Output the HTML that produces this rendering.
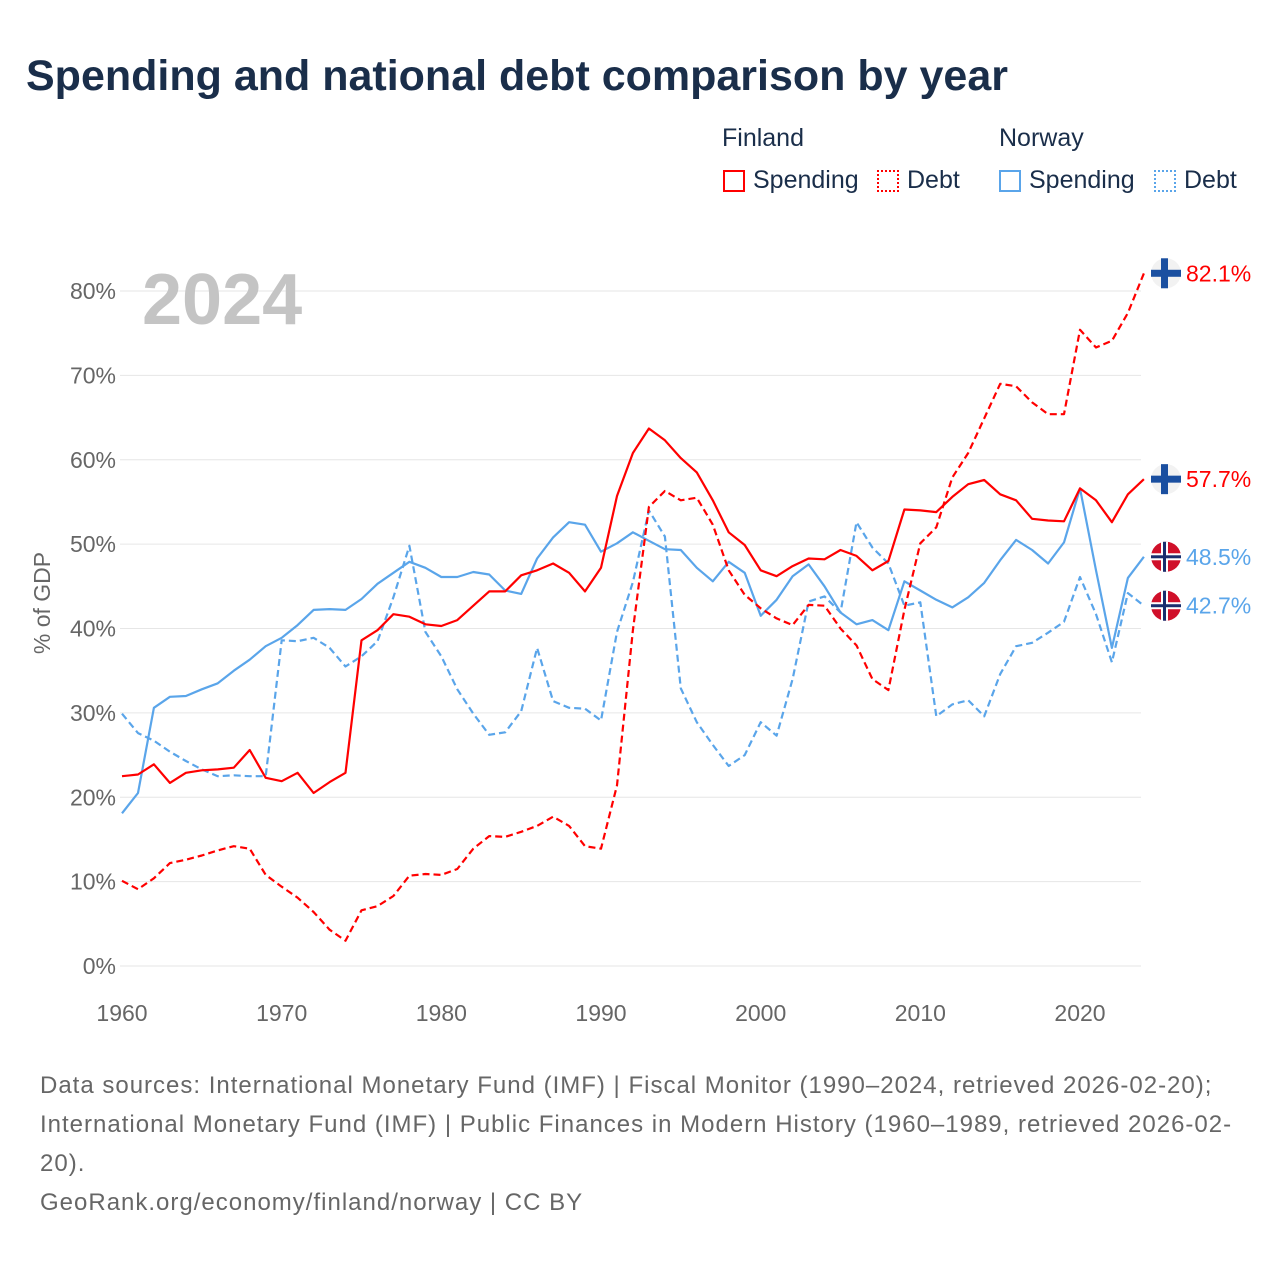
<!DOCTYPE html>
<html><head><meta charset="utf-8"><style>
body{margin:0;background:#fff;font-family:"Liberation Sans",sans-serif;}
#wrap{position:relative;width:1280px;height:1280px;overflow:hidden;}
h1{position:absolute;left:26px;top:52px;margin:0;font-size:43px;color:#1a2e4a;font-weight:bold;letter-spacing:0px;}
.lg{position:absolute;font-size:25px;color:#1a2e4a;}
.sw{position:absolute;width:22px;height:22px;box-sizing:border-box;}
#foot{position:absolute;left:40px;top:1066px;font-size:24px;line-height:39px;color:#666;white-space:nowrap;letter-spacing:1px;}
</style></head><body><div id="wrap">
<h1>Spending and national debt comparison by year</h1>
<div class="lg" style="left:722px;top:124px">Finland</div>
<div class="lg" style="left:999px;top:124px">Norway</div>
<div class="sw" style="left:723px;top:170px;border:2px solid #f00"></div>
<div class="lg" style="left:753px;top:166px">Spending</div>
<div class="sw" style="left:877px;top:170px;border:2px dotted #f00"></div>
<div class="lg" style="left:907px;top:166px">Debt</div>
<div class="sw" style="left:999px;top:170px;border:2px solid #5aa5ea"></div>
<div class="lg" style="left:1029px;top:166px">Spending</div>
<div class="sw" style="left:1154px;top:170px;border:2px dotted #5aa5ea"></div>
<div class="lg" style="left:1184px;top:166px">Debt</div>
<svg id="chart" width="1280" height="1280" style="position:absolute;left:0;top:0"></svg>
<div id="foot">Data sources: International Monetary Fund (IMF) | Fiscal Monitor (1990–2024, retrieved 2026-02-20);<br>International Monetary Fund (IMF) | Public Finances in Modern History (1960–1989, retrieved 2026-02-<br>20).<br>GeoRank.org/economy/finland/norway | CC BY</div>
</div>
<script>
const years=[];for(let y=1960;y<=2024;y++)years.push(y);
const yTicks=[0,10,20,30,40,50,60,70,80];
const xTicks=[1960,1970,1980,1990,2000,2010,2020];
const fiSpending=[22.5,22.7,23.9,21.7,22.9,23.2,23.3,23.5,25.6,22.3,21.9,22.9,20.5,21.8,22.9,38.6,39.8,41.7,41.4,40.5,40.3,41.0,42.7,44.4,44.4,46.3,46.9,47.7,46.6,44.4,47.2,55.7,60.8,63.7,62.3,60.2,58.5,55.2,51.4,49.9,46.9,46.2,47.4,48.3,48.2,49.3,48.6,46.9,48.0,54.1,54.0,53.8,55.6,57.1,57.6,55.9,55.2,53.0,52.8,52.7,56.6,55.2,52.6,55.9,57.7];
const fiDebt=[10.1,9.1,10.4,12.2,12.6,13.1,13.7,14.2,13.9,10.8,9.4,8.1,6.4,4.3,3.0,6.6,7.1,8.3,10.7,10.9,10.8,11.5,13.9,15.4,15.3,15.9,16.6,17.7,16.6,14.2,13.9,21.4,39.8,54.4,56.3,55.2,55.5,52.3,46.9,44.0,42.4,41.2,40.4,42.8,42.7,40.0,38.0,34.0,32.7,42.2,50.1,52.0,57.9,60.8,64.9,69.0,68.7,66.8,65.4,65.4,75.4,73.3,74.1,77.4,82.1];
const noSpending=[18.1,20.5,30.6,31.9,32.0,32.8,33.5,35.0,36.3,37.9,38.9,40.4,42.2,42.3,42.2,43.5,45.3,46.6,47.9,47.2,46.1,46.1,46.7,46.4,44.5,44.1,48.3,50.8,52.6,52.3,49.1,50.1,51.4,50.4,49.4,49.3,47.2,45.6,47.9,46.6,41.5,43.4,46.2,47.6,45.0,41.9,40.5,41.0,39.8,45.6,44.5,43.4,42.5,43.7,45.4,48.1,50.5,49.3,47.7,50.2,56.6,46.9,37.7,46.0,48.5];
const noDebt=[29.9,27.6,26.7,25.4,24.3,23.3,22.5,22.6,22.5,22.5,38.6,38.5,38.9,37.7,35.5,36.7,38.5,43.7,49.8,39.6,36.7,32.8,29.9,27.4,27.7,30.2,37.7,31.4,30.6,30.5,29.1,39.6,45.5,54.0,50.9,32.9,28.9,26.2,23.7,25.0,28.9,27.3,34.0,43.2,43.8,41.9,52.6,49.6,47.7,42.7,43.1,29.6,31.0,31.5,29.6,34.6,37.9,38.3,39.5,40.8,46.1,41.7,36.0,44.2,42.7];
const NS="http://www.w3.org/2000/svg";
const svg=document.getElementById('chart');
const X=y=>122+(y-1960)*(958/60);
const Y=v=>966-v*8.4375;
function el(t,a,p){const e=document.createElementNS(NS,t);for(const k in a)e.setAttribute(k,a[k]);(p||svg).appendChild(e);return e;}
yTicks.forEach(t=>{
 const g=el('line',{x1:120,x2:1141,y1:Y(t),y2:Y(t),stroke:'#e6e6e6','stroke-width':1});
 
 
 const l=el('text',{x:116,y:Y(t)+8,'text-anchor':'end','font-size':23,fill:'#666'});l.textContent=t+'%';
 
 
});
xTicks.forEach(t=>{
 const l=el('text',{x:X(t),y:1021,'text-anchor':'middle','font-size':23,fill:'#666'});l.textContent=t;
 
 
});
const yt=el('text',{x:50,y:603,'text-anchor':'middle','font-size':23,fill:'#666',transform:'rotate(-90 50 603)'});yt.textContent='% of GDP';


const yr=el('text',{x:142,y:324,'font-size':72,'font-weight':'bold',fill:'#c4c4c4'});yr.textContent='2024';


function line(data,color,dash,name){
 const d=data.map((v,i)=>(i?'L':'M')+X(years[i]).toFixed(1)+' '+Y(v).toFixed(1)).join(' ');
 const p=el('path',{d:d,fill:'none',stroke:color,'stroke-width':2.2,'stroke-dasharray':dash?'7 4':'none','stroke-linejoin':'round'});
 
 
}
line(noDebt,'#5aa5ea',true,'line-norway-debt');
line(noSpending,'#5aa5ea',false,'line-norway-spending');
line(fiDebt,'#f00',true,'line-finland-debt');
line(fiSpending,'#f00',false,'line-finland-spending');
function flag(v,fi,color,name){
 const cx=1166,cy=Y(v);
 const g=el('g',{});
 
 
 el('circle',{cx:cx,cy:cy,r:15,fill:fi?'#f2f2f2':'#d0102a'},g);
 const c=fi?'#1a4fa0':'#fff';
 el('rect',{x:cx-15,y:cy-3.5,width:30,height:7,fill:c},g);
 el('rect',{x:cx-5,y:cy-15,width:7,height:30,fill:c},g);
 if(!fi){el('rect',{x:cx-15,y:cy-1.5,width:30,height:3,fill:'#1a2e6e'},g);el('rect',{x:cx-3,y:cy-15,width:3,height:30,fill:'#1a2e6e'},g);}
 const t=el('text',{x:1186,y:cy+8,'font-size':23,fill:color});t.textContent=v.toFixed(1)+'%';
 
 
}
flag(fiDebt[fiDebt.length-1],true,'#f00','end-label-fi-debt');
flag(fiSpending[fiSpending.length-1],true,'#f00','end-label-fi-spending');
flag(noSpending[noSpending.length-1],false,'#5aa5ea','end-label-no-spending');
flag(noDebt[noDebt.length-1],false,'#5aa5ea','end-label-no-debt');
</script></body></html>
